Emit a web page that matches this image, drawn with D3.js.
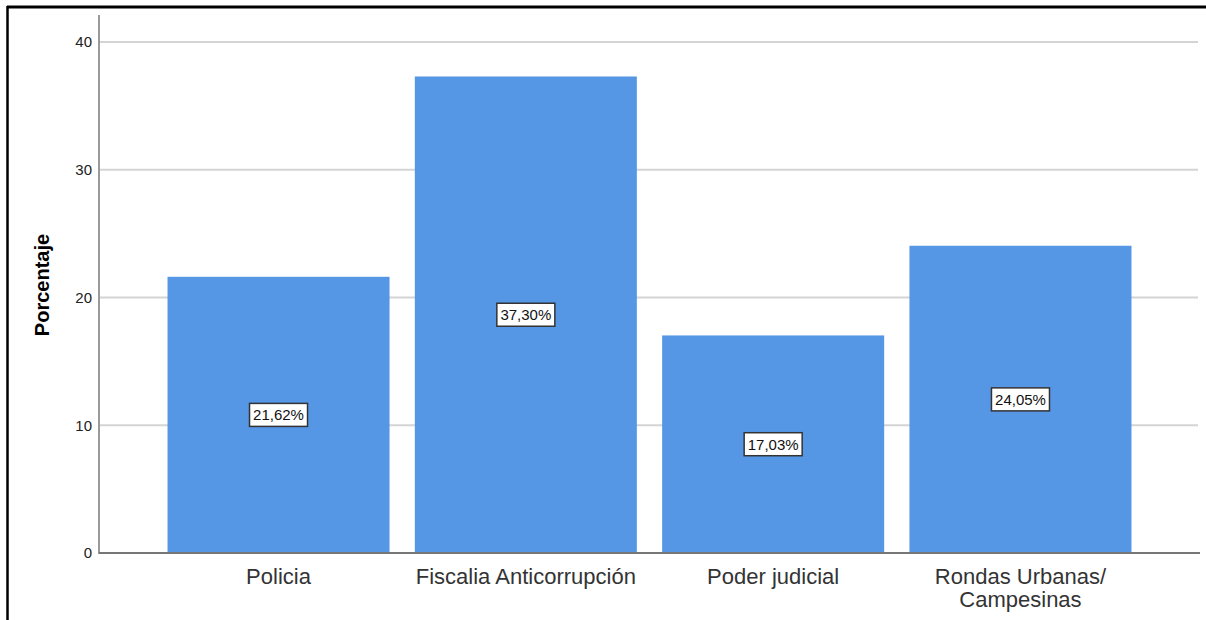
<!DOCTYPE html>
<html><head><meta charset="utf-8">
<script src="https://cdn.jsdelivr.net/npm/d3@7"></script>
<style>body{margin:0;background:#fff}svg{display:block}</style>
</head><body>
<svg id="c" width="1206" height="620"></svg>
<script>
const categories = ["Policia", "Fiscalia Anticorrupción", "Poder judicial", "Rondas Urbanas/\nCampesinas"];
const values = [21.62, 37.30, 17.03, 24.05];
const valueLabels = ["21,62%", "37,30%", "17,03%", "24,05%"];
const yTicks = [0, 10, 20, 30, 40];

const svg = d3.select("#c");
const font = "Arial, 'Liberation Sans', sans-serif";

// outer frame (top and left edges)
svg.append("line").attr("x1", 7).attr("x2", 1206).attr("y1", 7).attr("y2", 7).attr("stroke", "#000").attr("stroke-width", 3);
svg.append("line").attr("x1", 7.5).attr("x2", 7.5).attr("y1", 6).attr("y2", 620).attr("stroke", "#000").attr("stroke-width", 2.5);

const x = d3.scaleBand().domain(categories).range([100, 1199]).paddingInner(0.1023).paddingOuter(0.273);
const y = d3.scaleLinear().domain([0, 40]).range([553, 42]);

// gridlines
svg.append("g").selectAll("line").data(yTicks.filter(t => t > 0)).join("line")
  .attr("x1", 100).attr("x2", 1198)
  .attr("y1", d => y(d)).attr("y2", d => y(d))
  .attr("stroke", "#d4d4d4").attr("stroke-width", 2);

// y axis
const yAxis = d3.axisLeft(y).tickValues(yTicks).tickSize(0).tickPadding(7);
const gy = svg.append("g").attr("transform", "translate(99,0)").call(yAxis);
gy.select(".domain").remove();
gy.selectAll("text").attr("font-family", font).attr("font-size", 15).attr("fill", "#222");
svg.append("line").attr("x1", 99).attr("x2", 99).attr("y1", 15).attr("y2", 554).attr("stroke", "#9a9a9a").attr("stroke-width", 2);

// bars
svg.append("g").selectAll("rect").data(values).join("rect")
  .attr("x", (d, i) => x(categories[i]))
  .attr("width", x.bandwidth())
  .attr("y", d => y(d))
  .attr("height", d => y(0) - y(d))
  .attr("fill", "#5596e5");

// baseline
svg.append("line").attr("x1", 99).attr("x2", 1200).attr("y1", 553).attr("y2", 553).attr("stroke", "#777").attr("stroke-width", 2);

// value labels
const lg = svg.append("g").selectAll("g").data(values).join("g")
  .attr("transform", (d, i) => `translate(${x(categories[i]) + x.bandwidth() / 2},${y(d / 2)})`);
lg.append("rect").attr("x", -29).attr("y", -11.5).attr("width", 58).attr("height", 23)
  .attr("fill", "#fff").attr("stroke", "#333").attr("stroke-width", 1.5);
lg.append("text").text((d, i) => valueLabels[i])
  .attr("text-anchor", "middle").attr("dy", "0.36em")
  .attr("font-family", font).attr("font-size", 15).attr("fill", "#111");

// category labels
const xAxis = d3.axisBottom(x).tickSize(0).tickFormat("");
svg.append("g").attr("transform", "translate(0,553)").call(xAxis).select(".domain").remove();
const cl = svg.append("g").selectAll("text").data(categories).join("text")
  .attr("x", d => x(d) + x.bandwidth() / 2)
  .attr("y", 584)
  .attr("text-anchor", "middle")
  .attr("font-family", font).attr("font-size", 22).attr("fill", "#333");
cl.each(function (d) {
  const lines = d.split("\n");
  const t = d3.select(this);
  lines.forEach((ln, k) => {
    t.append("tspan").attr("x", x(d) + x.bandwidth() / 2).attr("dy", k === 0 ? 0 : 23).text(ln);
  });
});

// y title
svg.append("text").text("Porcentaje")
  .attr("transform", "translate(49,285) rotate(-90)")
  .attr("text-anchor", "middle")
  .attr("font-family", font).attr("font-size", 20).attr("font-weight", "bold").attr("fill", "#000");
</script>
</body></html>
